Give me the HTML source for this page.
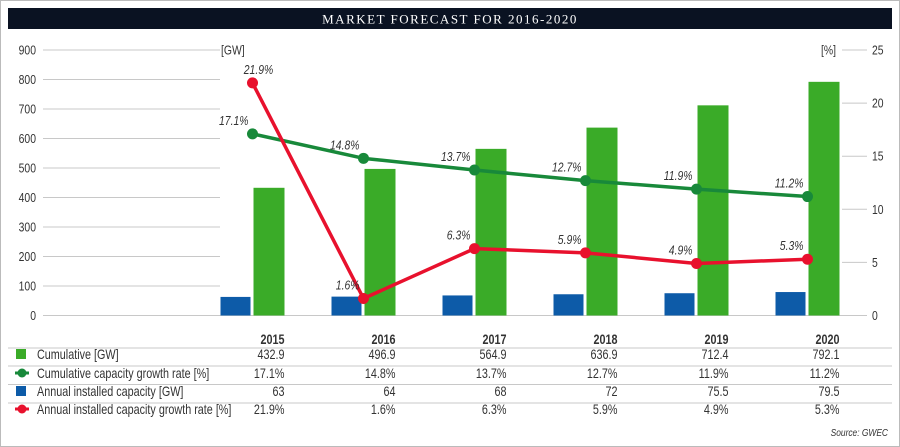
<!DOCTYPE html>
<html><head><meta charset="utf-8"><style>
html,body{margin:0;padding:0;background:#fff}
svg{display:block}
text{font-family:"Liberation Sans Narrow","Liberation Sans",sans-serif;fill:#333}
</style></head><body>
<svg id="c" width="900" height="447" viewBox="0 0 900 447">
<rect x="0.5" y="0.5" width="899" height="446" fill="#fff" stroke="#bbb"/>
<rect x="8" y="8" width="884" height="21" fill="#0a1222"/>
<text x="450" y="23.5" text-anchor="middle" style="font-family:'Liberation Serif',serif;fill:#fff;font-size:13px;letter-spacing:1.5px">MARKET FORECAST FOR 2016-2020</text>
<g id="g"></g>
</svg>
<script>
const years=["2015","2016","2017","2018","2019","2020"];
const cumulative=[432.9,496.9,564.9,636.9,712.4,792.1];
const cumGrowth=[17.1,14.8,13.7,12.7,11.9,11.2];
const annual=[63,64,68,72,75.5,79.5];
const annualGrowth=[21.9,1.6,6.3,5.9,4.9,5.3];
const leftTicks=[0,100,200,300,400,500,600,700,800,900];
const rightTicks=[0,5,10,15,20,25];
const cumLabels=["432.9","496.9","564.9","636.9","712.4","792.1"];
const cumGrowthLabels=["17.1%","14.8%","13.7%","12.7%","11.9%","11.2%"];
const annualLabels=["63","64","68","72","75.5","79.5"];
const annualGrowthLabels=["21.9%","1.6%","6.3%","5.9%","4.9%","5.3%"];

const NS="http://www.w3.org/2000/svg";
const g=document.getElementById('g');
const SX=0.8;
function mk(t,a,txt){const e=document.createElementNS(NS,t);
  if(t==='text'){const x=a.x,y=a.y;delete a.x;delete a.y;e.setAttribute('transform','translate('+x+','+y+') scale('+SX+',1)');}
  for(const k in a)e.setAttribute(k,a[k]);if(txt!==undefined)e.textContent=txt;g.appendChild(e);return e;}
const y0=315.5,yTop=50;
const yL=v=>y0-(v/900)*(y0-yTop);
const yR=v=>y0-(v/25)*(y0-yTop);
const xC=i=>252.5+i*111;

leftTicks.forEach(v=>{
  let l=mk('line',{x1:43,x2:v===0?867:220,y1:yL(v),y2:yL(v),stroke:'#c8c8c8','stroke-width':1});
  
  
  let t=mk('text',{x:36,y:yL(v)+4.5,'text-anchor':'end','font-size':'13'},String(v));
  
  
});
let u=mk('text',{x:221,y:yL(900)+4.5,'font-size':'13'},'[GW]');


rightTicks.forEach(v=>{
  let l=mk('line',{x1:842,x2:867,y1:yR(v),y2:yR(v),stroke:'#c8c8c8'});
  
  
  let t=mk('text',{x:872,y:yR(v)+4.5,'font-size':'13'},String(v));
  
  
});
let u2=mk('text',{x:821,y:yR(25)+4.5,'font-size':'13'},'[%]');



years.forEach((yr,i)=>{
  let b=mk('rect',{x:xC(i)-32,y:yL(annual[i]),width:30,height:y0-yL(annual[i]),fill:'#0d5ba8'});
  
  
  let c=mk('rect',{x:xC(i)+1,y:yL(cumulative[i]),width:31,height:y0-yL(cumulative[i]),fill:'#3aab28'});
  
  
});

function line(vals,labels,color,name,first){
  const pts=vals.map((v,i)=>xC(i)+','+yR(v)).join(' ');
  let p=mk('polyline',{points:pts,fill:'none',stroke:color,'stroke-width':3.5,'stroke-linejoin':'round'});
  
  
  vals.forEach((v,i)=>{
    let c=mk('circle',{cx:xC(i),cy:yR(v),r:5.5,fill:color});
    
    
    const centered=(first&&i===0);
    let t=mk('text',{x:centered?xC(i)+6:xC(i)-4,y:yR(v)-9,'text-anchor':centered?'middle':'end','font-size':'13','font-style':'italic'},labels[i]);
    
    
  });
}
line(cumGrowth,cumGrowthLabels,'#18893a','cumulative-growth',false);
line(annualGrowth,annualGrowthLabels,'#e8112d','annual-growth',true);

years.forEach((yr,i)=>{
  let t=mk('text',{x:xC(i)+32,y:344,'text-anchor':'end','font-size':'13.5','font-weight':'bold'},yr);
  
  
});
const rowsY=[358,377,395,413];
[348,366,384.5,403].forEach(y=>{
  let l=mk('line',{x1:8,x2:892,y1:y,y2:y,stroke:'#c8c8c8'});
  
  
});
const rowNames=['Cumulative [GW]','Cumulative capacity growth rate [%]','Annual installed capacity [GW]','Annual installed capacity growth rate [%]'];
const rowData=[cumLabels,cumGrowthLabels,annualLabels,annualGrowthLabels];
const rowColors=['#3aab28','#18893a','#0d5ba8','#e8112d'];
rowNames.forEach((n,r)=>{
  const y=rowsY[r];
  if(r%2===0){
    let s=mk('rect',{x:16,y:y-9,width:10,height:10,fill:rowColors[r]});
    
    
  } else {
    let l=mk('line',{x1:15,x2:29,y1:y-4,y2:y-4,stroke:rowColors[r],'stroke-width':3});
    
    
    let c=mk('circle',{cx:22,cy:y-4,r:4.5,fill:rowColors[r]});
    
    
  }
  let t=mk('text',{x:37,y:y+1,'font-size':'13.5'},n);
  
  
  rowData[r].forEach((v,i)=>{
    let c=mk('text',{x:xC(i)+32,y:y+1,'text-anchor':'end','font-size':'13.5'},v);
    
    
  });
});
let src=mk('text',{x:888,y:436,'text-anchor':'end','font-size':'10.5','font-style':'italic'},'Source: GWEC');


</script>
</body></html>
